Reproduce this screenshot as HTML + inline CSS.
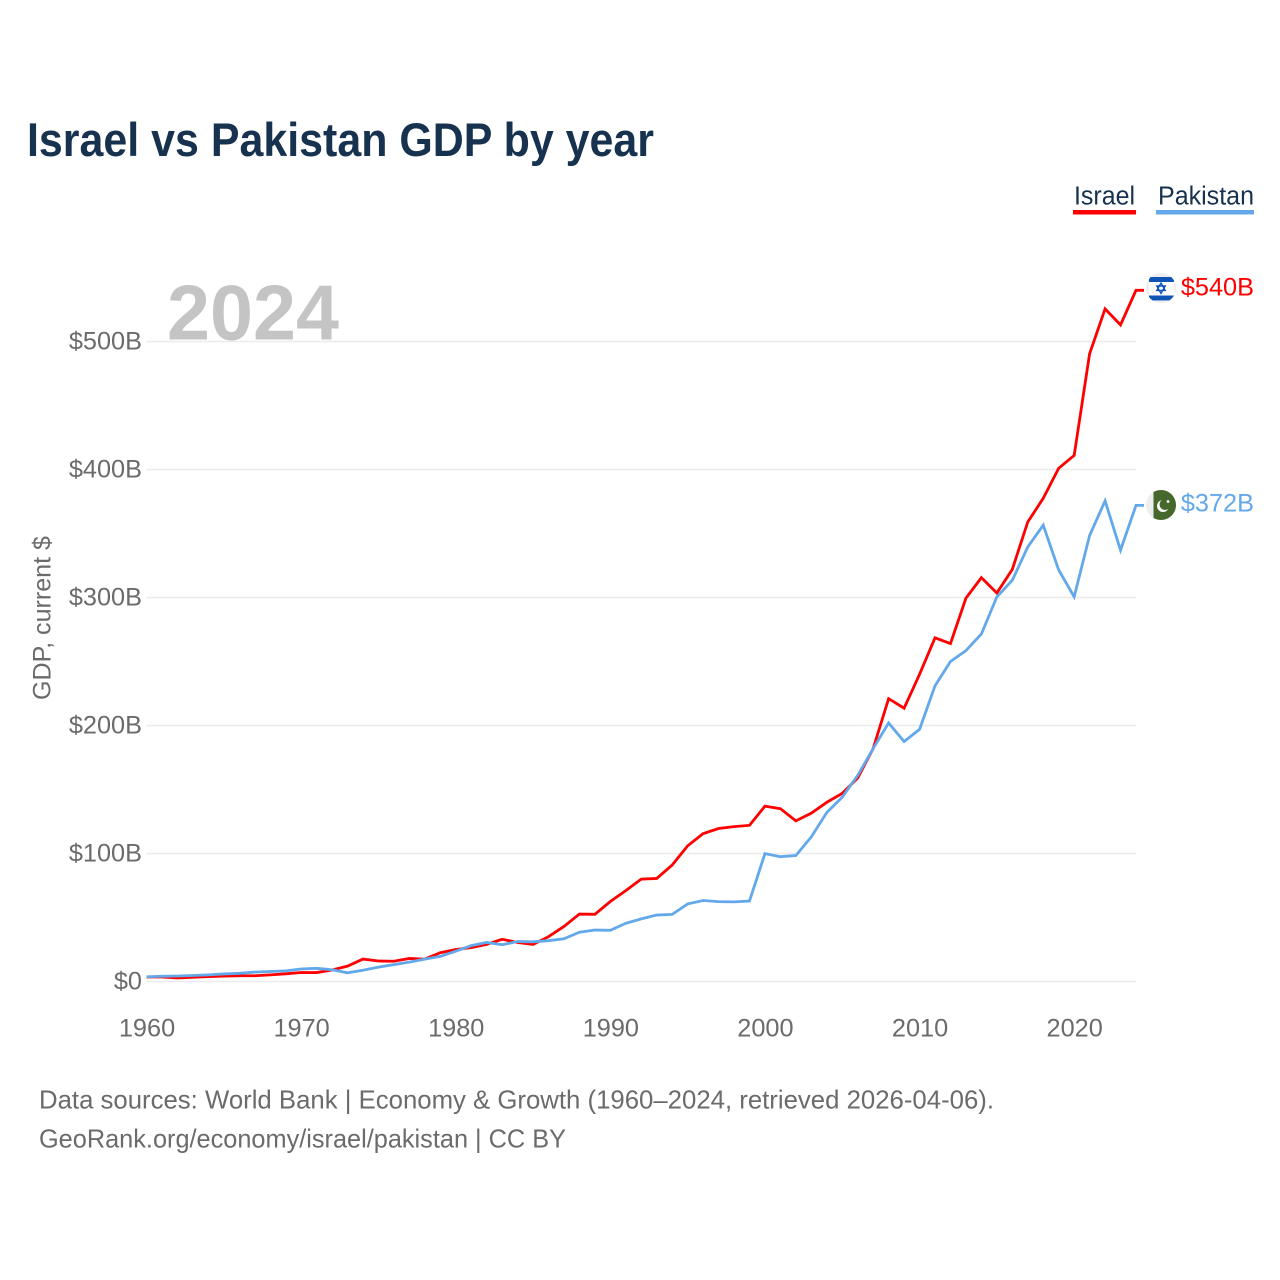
<!DOCTYPE html>
<html lang="en">
<head>
<meta charset="utf-8">
<title>Israel vs Pakistan GDP by year</title>
<style>
html,body{margin:0;padding:0;background:#fff;}
svg{display:block;font-family:"Liberation Sans",sans-serif;}
</style>
</head>
<body>
<svg id="chart" xmlns="http://www.w3.org/2000/svg" width="1280" height="1280" viewBox="0 0 1280 1280">
  <rect x="0" y="0" width="1280" height="1280" fill="#ffffff"/>
  <text x="27" y="156" font-size="47" font-weight="700" fill="#17324f" textLength="627" lengthAdjust="spacingAndGlyphs">Israel vs Pakistan GDP by year</text>
  <text x="167" y="339.5" font-size="78" font-weight="700" fill="#c4c4c4" textLength="172" lengthAdjust="spacingAndGlyphs">2024</text>
  <g id="grid"></g>
  <g id="yticks"></g>
  <g id="xticks"></g>
  <text transform="translate(50.5,618) rotate(-90)" text-anchor="middle" font-size="25" fill="#6b6b6b" textLength="164" lengthAdjust="spacingAndGlyphs">GDP, current $</text>
  <g id="series"></g>

  <g>
    <text x="1074" y="204.5" font-size="25.5" fill="#17324f" textLength="61" lengthAdjust="spacingAndGlyphs">Israel</text>
    <rect x="1073" y="210" width="63" height="4.5" fill="#ff0000"/>
  </g>
  <g>
    <text x="1158" y="204.5" font-size="25.5" fill="#17324f" textLength="96" lengthAdjust="spacingAndGlyphs">Pakistan</text>
    <rect x="1156" y="210" width="98" height="4.5" fill="#63a8ea"/>
  </g>

  <defs>
    <clipPath id="clip-il"><circle cx="1161" cy="288" r="15"/></clipPath>
    <clipPath id="clip-pk"><circle cx="1161" cy="505" r="15"/></clipPath>
  </defs>
  <g clip-path="url(#clip-il)">
    <rect x="1146" y="273" width="30" height="30" fill="#eeeeee"/>
    <rect x="1149" y="277" width="25" height="24" fill="#ffffff"/>
    <rect x="1149" y="277" width="25" height="5" fill="#0f55b5"/>
    <rect x="1149" y="295.5" width="25" height="5" fill="#0f55b5"/>
    <path d="M1161 283 l4.2 7.4 h-8.4 z M1161 293.4 l-4.2 -7.4 h8.4 z" fill="none" stroke="#0f55b5" stroke-width="1.4"/>
  </g>
  <g clip-path="url(#clip-pk)">
    <rect x="1146" y="490" width="30" height="30" fill="#eeeeee"/>
    <rect x="1153.5" y="490" width="23" height="30" fill="#47682c"/>
    <circle cx="1163" cy="506" r="6" fill="#ffffff"/>
    <circle cx="1165" cy="504.5" r="5.4" fill="#47682c"/>
    <circle cx="1168" cy="501.5" r="1.4" fill="#ffffff"/>
  </g>

  <text x="1254" y="295.5" text-anchor="end" font-size="25.3" fill="#ff0000">$540B</text>
  <text x="1254" y="511.5" text-anchor="end" font-size="25.3" fill="#63a8ea">$372B</text>

  <text x="39" y="1108.5" font-size="26" fill="#6b6b6b" textLength="955" lengthAdjust="spacingAndGlyphs">Data sources: World Bank | Economy &amp; Growth (1960–2024, retrieved 2026-04-06).</text>
  <text x="39" y="1147.5" font-size="26" fill="#6b6b6b" textLength="527" lengthAdjust="spacingAndGlyphs">GeoRank.org/economy/israel/pakistan | CC BY</text>
</svg>
<script>
const years = [1960,1961,1962,1963,1964,1965,1966,1967,1968,1969,1970,1971,1972,1973,1974,1975,1976,1977,1978,1979,1980,1981,1982,1983,1984,1985,1986,1987,1988,1989,1990,1991,1992,1993,1994,1995,1996,1997,1998,1999,2000,2001,2002,2003,2004,2005,2006,2007,2008,2009,2010,2011,2012,2013,2014,2015,2016,2017,2018,2019,2020,2021,2022,2023,2024];
const israelGdp = [3.5,3.5,2.8,3.3,3.8,4.2,4.5,4.5,5.2,6,7,7,9,12,17.5,16,15.8,18,17.5,22.5,25,26.5,29,33,30.5,29,35,43,52.7,52.5,62.5,71,80,80.5,91,106,115.5,119.5,121,122,137,135,125.5,131.5,140,147,159,182,221,213.5,240,268.5,264,299.5,315.5,303.5,322,359,377.5,401,411,490.5,525.5,513,540];
const pakistanGdp = [3.7,4.1,4.3,4.7,5.2,5.9,6.4,7.3,7.8,8.3,9.8,10.3,9.2,6.8,8.8,11.2,13.2,15.1,17.5,19.6,23.7,28,30.5,28.7,31.2,31,31.9,33.4,38.5,40.2,40,45.5,48.9,51.9,52.4,60.6,63.3,62.4,62.2,62.9,99.9,97.5,98.4,113,132,144,161,182,202,187.5,197,231,250,258.5,271.5,300.5,313.5,339.5,356.5,321.5,300.5,348.5,375.5,337,372];
const yTicks = [0,100,200,300,400,500];
const yTickLabels = ["$0","$100B","$200B","$300B","$400B","$500B"];
const xTicks = [1960,1970,1980,1990,2000,2010,2020];

const NS = "http://www.w3.org/2000/svg";
function xScale(year){ return 146.5 + (year - 1960) * (1136 - 146.5) / 64; }
function yScale(value){ return 981.5 - value * 1.28; }
function make(tag, parent, attrs){
  const el = document.createElementNS(NS, tag);
  for (const k in attrs) el.setAttribute(k, attrs[k]);
  parent.appendChild(el);
  return el;
}
const grid = document.getElementById("grid");
const yGroup = document.getElementById("yticks");
const xGroup = document.getElementById("xticks");
const seriesGroup = document.getElementById("series");

yTicks.forEach(function(v, i){
  const line = make("line", grid, {x1:146.5, x2:1136, y1:yScale(v), y2:yScale(v), stroke:"#ebebeb", "stroke-width":1.5});
  
  
  const label = make("text", yGroup, {x:142, y:yScale(v)+8, "text-anchor":"end", "font-size":25.3, fill:"#6b6b6b"});
  
  
  label.textContent = yTickLabels[i];
});
xTicks.forEach(function(y){
  const label = make("text", xGroup, {x:xScale(y)+0.5, y:1036.5, "text-anchor":"middle", "font-size":25.3, fill:"#6b6b6b"});
  
  
  label.textContent = String(y);
});
function drawSeries(values, color, name){
  let d = "";
  values.forEach(function(v, i){
    d += (i ? "L" : "M") + xScale(years[i]).toFixed(2) + " " + yScale(v).toFixed(2);
  });
  d += "L" + (xScale(years[years.length-1]) + 8).toFixed(2) + " " + yScale(values[values.length-1]).toFixed(2);
  const path = make("path", seriesGroup, {d:d, fill:"none", stroke:color, "stroke-width":2.8, "stroke-linejoin":"miter"});
  
  
}
drawSeries(israelGdp, "#ff0000", "israel-line");
drawSeries(pakistanGdp, "#63a8ea", "pakistan-line");
</script>
</body>
</html>
